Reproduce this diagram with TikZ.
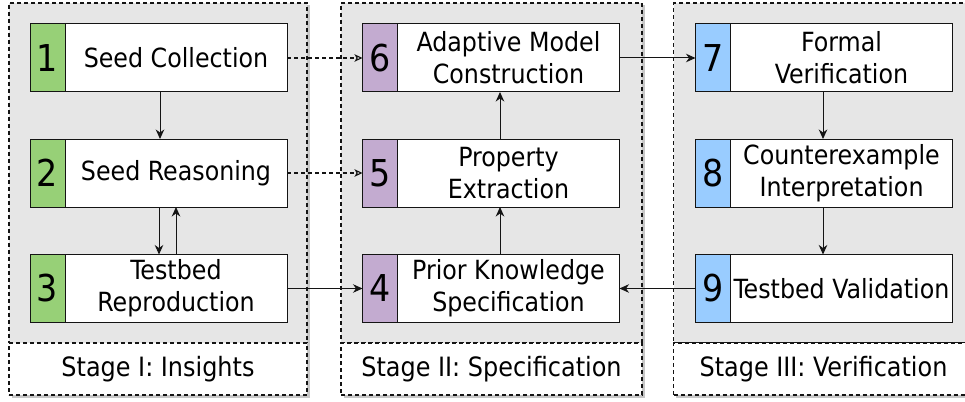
\documentclass[tikz,border=0pt]{standalone}
\usepackage{fontspec}
\setmainfont{DejaVu Sans Condensed}
\usetikzlibrary{arrows.meta,calc,shadows}

\definecolor{panelgray}{HTML}{E6E6E6}
\definecolor{stepgreen}{HTML}{97D077}
\definecolor{steppurple}{HTML}{C3ABD0}
\definecolor{stepblue}{HTML}{99CCFF}
\definecolor{edgeink}{HTML}{141414}

\tikzset{
  dashline/.style={dash pattern=on 4pt off 3pt},
  softshadow/.style={drop shadow={shadow xshift=2.5pt, shadow yshift=-2.5pt, fill=black, opacity=0.22}},
  panel/.style={rectangle, fill=panelgray, draw=edgeink, line width=1.1pt, dashline,
    softshadow, inner sep=0pt, outer sep=0pt},
  tagbox/.style={rectangle, fill=white, draw=edgeink, line width=1.1pt, dashline,
    softshadow, inner sep=0pt, outer sep=0pt, font=\fontsize{26.6}{26.6}\selectfont},
  stepframe/.style={rectangle, draw=edgeink, fill=white, line width=1pt,
    minimum width=257pt, minimum height=68pt, inner sep=0pt, outer sep=0pt},
  numcell/.style={rectangle, draw=edgeink, line width=1pt, minimum width=35pt,
    minimum height=68pt, inner sep=0pt, outer sep=0pt, anchor=north west,
    font=\fontsize{37}{37}\selectfont},
  steptext/.style={align=center, inner sep=0pt, font=\fontsize{26.4}{32}\selectfont},
  flow/.style={draw=edgeink, line width=1pt, -{Stealth[length=9.5pt,width=8.5pt,inset=3pt]}},
  hint/.style={draw=edgeink, line width=1.1pt, dashline, -{Stealth[open,length=8pt,width=7.5pt,inset=2pt]}},
}

\begin{document}
\begin{tikzpicture}[x=1pt,y=-1pt]
  \useasboundingbox (0,0) rectangle (965,401);
  \clip (0,0) rectangle (965,401);

  % stage panels and their captions
  \node[panel, minimum width=298pt, minimum height=340pt] (p1) at (158,173) {};
  \node[panel, minimum width=301pt, minimum height=340pt] (p2) at (491.5,173) {};
  \node[panel, minimum width=300pt, minimum height=340pt] (p3) at (823.5,173) {};
  \node[tagbox, minimum width=298pt, minimum height=52pt] (s1) at (158,369) {Stage I: Insights};
  \node[tagbox, minimum width=301pt, minimum height=52pt] (s2) at (491.5,369) {Stage II: Specification};
  \node[tagbox, minimum width=300pt, minimum height=52pt] (s3) at (823.5,369) {Stage III: Verification};

  % numbered steps
  \foreach \n/\x/\y/\c/\t in {
      1/158.5/58/stepgreen/{Seed Collection},
      2/158.5/173/stepgreen/{Seed Reasoning},
      3/158.5/288.5/stepgreen/{Testbed\\Reproduction},
      6/491/58/steppurple/{Adaptive Model\\Construction},
      5/491/173/steppurple/{Property\\Extraction},
      4/491/288.5/steppurple/{Prior Knowledge\\Specification},
      7/824/58/stepblue/{Formal\\Verification},
      8/824/173/stepblue/{Counterexample\\Interpretation},
      9/824/288.5/stepblue/{Testbed Validation}} {
    \node[stepframe] (b\n) at (\x,\y) {};
    \node[numcell, fill=\c] (k\n) at (b\n.north west) {\n};
    \node[steptext] (t\n) at ($(k\n.east)!0.5!(b\n.east)$) {\t};
  }

  % connectors
  \draw[hint] (b1.east) -- (k6.west);
  \draw[hint] (b2.east) -- (k5.west);
  \draw[flow] (b3.east) -- (k4.west);
  \draw[flow] (b6.east) -- (k7.west);
  \draw[flow] (b9.west) -- (b4.east);
  \draw[flow] ([xshift=1.5pt]b1.south) -- ([xshift=1.5pt]b2.north);
  \draw[flow] ([xshift=0.5pt]b2.south) -- ([xshift=0.5pt]b3.north);
  \draw[flow] ([xshift=17.5pt]b3.north) -- ([xshift=17.5pt]b2.south);
  \draw[flow] ([xshift=9pt]b4.north) -- ([xshift=9pt]b5.south);
  \draw[flow] ([xshift=9pt]b5.north) -- ([xshift=9pt]b6.south);
  \draw[flow] ([xshift=-1pt]b7.south) -- ([xshift=-1pt]b8.north);
  \draw[flow] ([xshift=-1pt]b8.south) -- ([xshift=-1pt]b9.north);
\end{tikzpicture}
\end{document}
